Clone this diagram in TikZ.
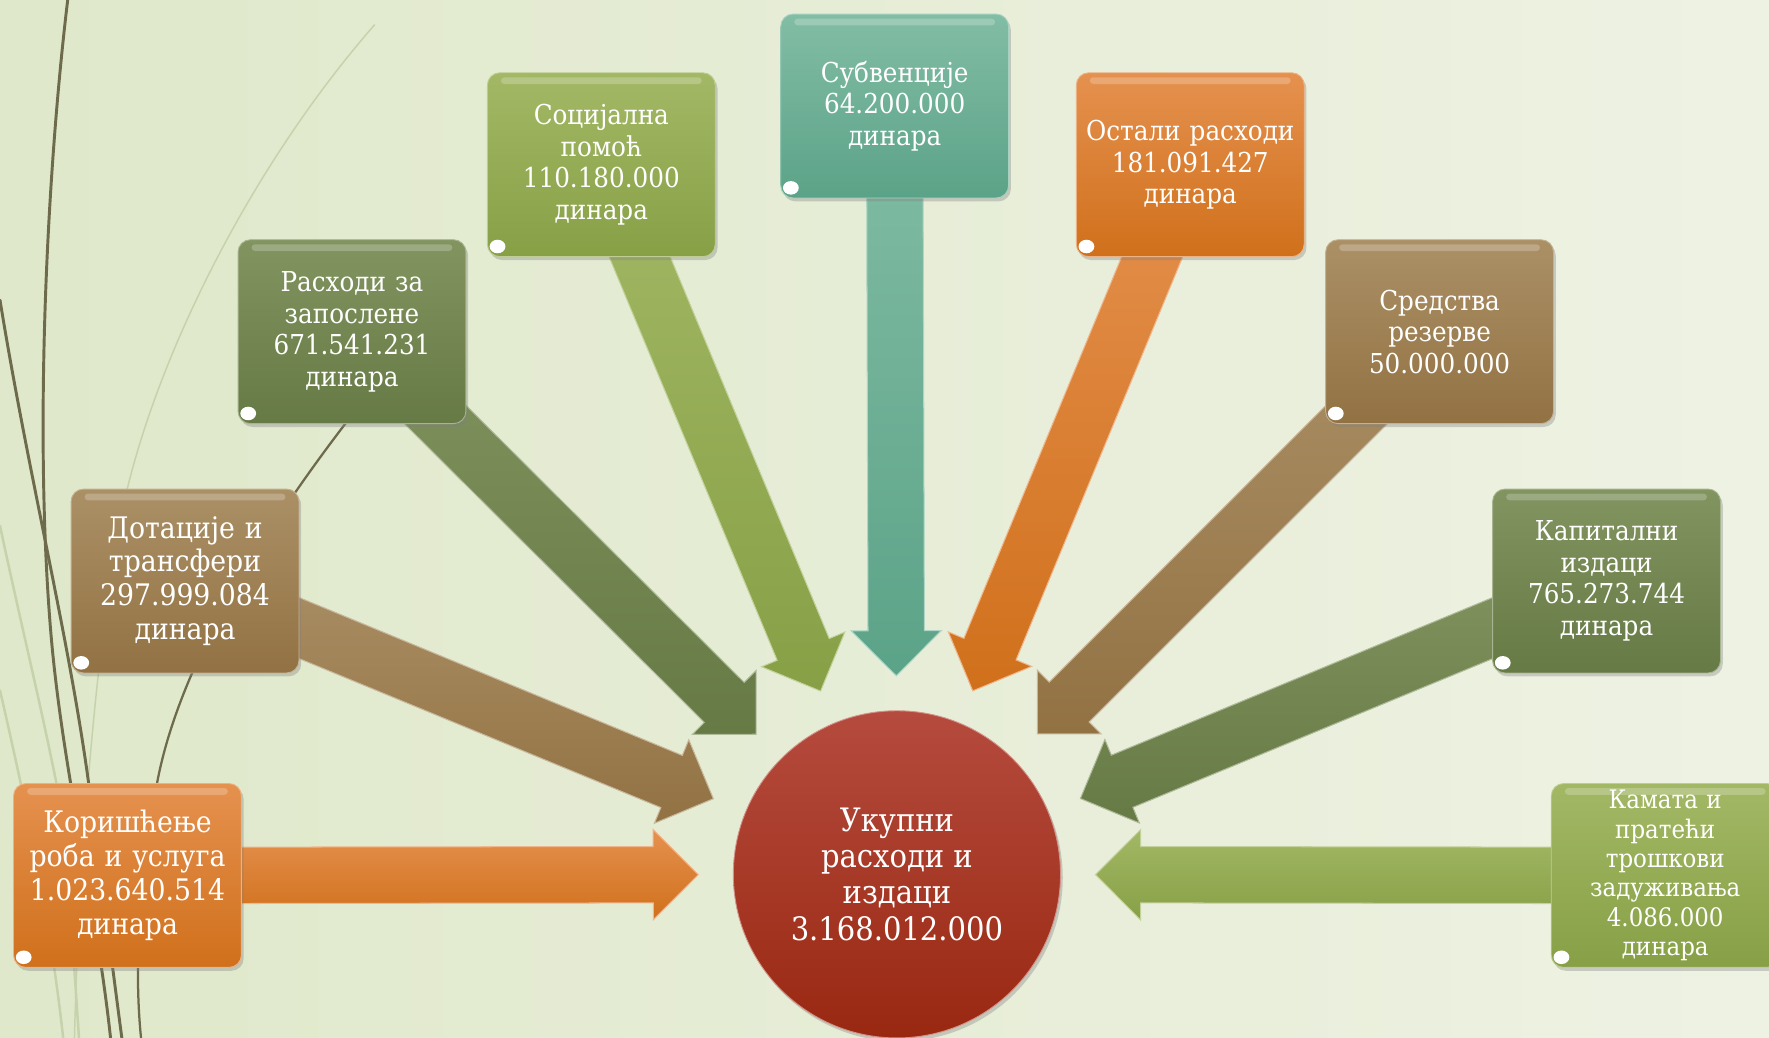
\documentclass[tikz,border=0pt]{standalone}
\usepackage{fontspec}
\setmainfont{DejaVu Serif Condensed}
\usetikzlibrary{calc,shadows}
\pgfdeclarelayer{deco}
\pgfdeclarelayer{arrowlayer}
\pgfsetlayers{deco,arrowlayer,main}
\definecolor{bgL}{HTML}{DFE8CA}
\definecolor{bgM}{HTML}{F3F5ED}
\definecolor{bgR}{HTML}{EEF2E3}
\definecolor{dk}{HTML}{6E6A4C}
\definecolor{lt}{HTML}{C6D2AC}
\definecolor{orT}{HTML}{E5914F}
\definecolor{orB}{HTML}{D0701B}
\definecolor{tnT}{HTML}{AB9066}
\definecolor{tnB}{HTML}{927243}
\definecolor{dgT}{HTML}{82945F}
\definecolor{dgB}{HTML}{667A46}
\definecolor{ygT}{HTML}{A3B865}
\definecolor{ygB}{HTML}{87A046}
\definecolor{tlT}{HTML}{82BDA5}
\definecolor{tlB}{HTML}{5BA388}
\definecolor{rdT}{HTML}{B54B3E}
\definecolor{rdB}{HTML}{992811}
\tikzset{
  box/.style={rounded corners=11pt, minimum width=202pt, minimum height=163pt,
    text width=200pt, align=center, text=white, inner sep=0pt, line width=0.8pt,
    drop shadow={opacity=0.35, shadow xshift=2pt, shadow yshift=-3pt},
    font=\fontsize{24.3}{28}\selectfont,
    path picture={\fill[white,opacity=0.22,rounded corners=3pt]
      ([xshift=12pt,yshift=-4pt]path picture bounding box.north west) rectangle
      ([xshift=-12pt,yshift=-10pt]path picture bounding box.north east);
      \fill[white] ([xshift=9pt,yshift=9pt]path picture bounding box.south west) ellipse [x radius=7pt, y radius=6pt];}},
  orbox/.style={box, top color=orT, bottom color=orB, draw=orT!70!white},
  tnbox/.style={box, top color=tnT, bottom color=tnB, draw=tnT!70!white},
  dgbox/.style={box, top color=dgT, bottom color=dgB, draw=dgT!70!white},
  ygbox/.style={box, top color=ygT, bottom color=ygB, draw=ygT!70!white},
  tlbox/.style={box, top color=tlT, bottom color=tlB, draw=tlT!70!white},
  bigtext/.style={font=\fontsize{26.3}{30}\selectfont},
  smalltext/.style={font=\fontsize{22.6}{26}\selectfont},
  hub/.style={circle, minimum size=290pt, inner sep=0pt, align=center, text=white,
    top color=rdT, bottom color=rdB, draw=rdT!60!white, line width=0.8pt,
    drop shadow={opacity=0.35, shadow xshift=2pt, shadow yshift=-3pt},
    font=\fontsize{28.6}{32}\selectfont},
  darkline/.style={draw=dk, line width=2.6pt, line cap=round},
  lightline/.style={draw=lt, line width=2.2pt, line cap=round},
}
\newcommand\flowarrow[3]{%
\begin{pgfonlayer}{arrowlayer}
\path ($(hubnode.center)!176pt!(#1.center)$) coordinate (#1-tip)
      ($(#1-tip)!40pt!(#1.center)$) coordinate (#1-base);
\shade[top color=#2, bottom color=#3, draw=#2!65!white, line width=0.9pt, line join=miter]
  ($(#1.center)!25pt!-90:(#1-base)$) -- ($(#1-base)!25pt!90:(#1.center)$) --
  ($(#1-base)!40pt!90:(#1.center)$) -- (#1-tip) --
  ($(#1-base)!40pt!-90:(#1.center)$) -- ($(#1-base)!25pt!-90:(#1.center)$) --
  ($(#1.center)!25pt!90:(#1-base)$) -- cycle;
\end{pgfonlayer}}
\begin{document}
\begin{tikzpicture}[x=1pt,y=-1pt]
\useasboundingbox (0,0) rectangle (1568,920);
\begin{pgfonlayer}{deco}
\shade[left color=bgL, middle color=bgM, right color=bgR] (0,0) rectangle (1568,920);
\draw[lightline] (0,466) .. controls (20,560) and (40,640) .. (55,720) .. controls (62,800) and (66,860) .. (70,920);
\draw[lightline] (0,612) .. controls (25,720) and (45,820) .. (56,920);
\draw[lightline, line width=1.3pt] (332,22) .. controls (220,150) and (130,330) .. (105,470) .. controls (85,580) and (70,760) .. (66,920);
\draw[darkline] (0,266) .. controls (25,420) and (60,560) .. (78,690) .. controls (90,780) and (100,860) .. (108,920);
\draw[darkline] (60,0) .. controls (42,150) and (30,380) .. (45,560) .. controls (55,680) and (85,800) .. (98,920);
\draw[darkline, line width=2pt] (330,345) .. controls (230,470) and (160,590) .. (140,690) .. controls (125,770) and (118,850) .. (125,920);
\end{pgfonlayer}

\node[hub] (hubnode) at (795,775) {Укупни\\расходи и\\издаци\\3.168.012.000};

\node[orbox, bigtext] (b1) at (113,776) {Коришћење\\роба и услуга\\1.023.640.514\\динара};
\node[tnbox, bigtext] (b2) at (164,515) {Дотације и\\трансфери\\297.999.084\\динара};
\node[dgbox] (b3) at (312,294) {Расходи за\\запослене\\671.541.231\\динара};
\node[ygbox] (b4) at (533,146) {Социјална\\помоћ\\110.180.000\\динара};
\node[tlbox] (b5) at (793,94) {Субвенције\\64.200.000\\динара};
\node[orbox] (b6) at (1055,146) {Остали расходи\\181.091.427\\динара};
\node[tnbox] (b7) at (1276,294) {Средства\\резерве\\50.000.000};
\node[dgbox] (b8) at (1424,515) {Капитални\\издаци\\765.273.744\\динара};
\node[ygbox, smalltext] (b9) at (1476,776) {Камата и\\пратећи\\трошкови\\задуживања\\4.086.000\\динара};

\flowarrow{b1}{orT}{orB}
\flowarrow{b2}{tnT}{tnB}
\flowarrow{b3}{dgT}{dgB}
\flowarrow{b4}{ygT}{ygB}
\flowarrow{b5}{tlT}{tlB}
\flowarrow{b6}{orT}{orB}
\flowarrow{b7}{tnT}{tnB}
\flowarrow{b8}{dgT}{dgB}
\flowarrow{b9}{ygT}{ygB}
\end{tikzpicture}
\end{document}
